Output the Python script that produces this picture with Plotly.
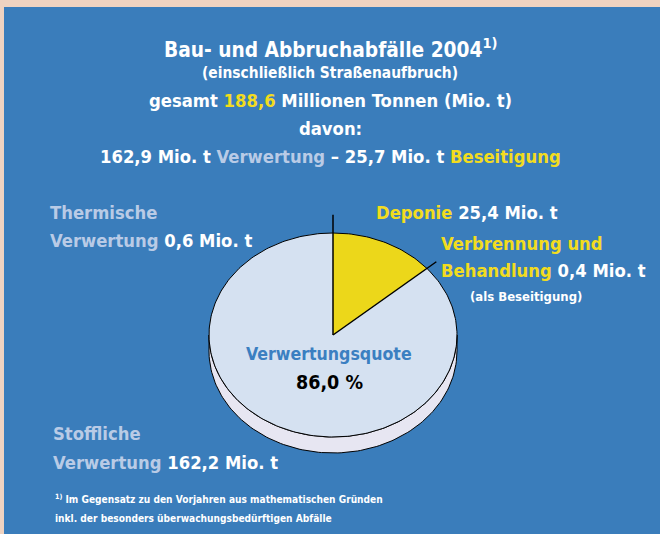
import numpy as np
import plotly.graph_objects as go

# ============================================================
# Data (Mio. t, 2004)
# ============================================================
categories = ["Deponie", "Verbrennung und Behandlung", "Stoffliche Verwertung", "Thermische Verwertung"]
values = [25.4, 0.4, 162.2, 0.6]
groups = ["Beseitigung", "Beseitigung", "Verwertung", "Verwertung"]
total = 188.6
verwertung_total = 162.9
beseitigung_total = 25.7
quote = 86.0

# ============================================================
# Style
# ============================================================
FONT = "Liberation Sans Narrow, Arial Narrow, DejaVu Sans Condensed, sans-serif"
PEACH = "#efd3c1"
BLUE = "#3a7dbb"
LIGHT = "#b9cbe6"
YELLOW_TXT = "#f2dc1e"
WHITE = "#ffffff"
TOP = "#d5e1f1"
SIDE = "#e7e6f2"
YELLOW = "#ecd71a"
group_colors = {"Beseitigung": YELLOW, "Verwertung": TOP}

# pie geometry in pixel space
cx, cy = 333, 335
rx, ry = 124, 102
depth = 16


def ell(theta_deg, dy=0, scale=1.0):
    t = np.radians(theta_deg)
    return cx + scale * rx * np.sin(t), cy + dy - scale * ry * np.cos(t)


fig = go.Figure()

# blue panel
fig.add_shape(type="rect", x0=4, x1=660, y0=7, y1=534, fillcolor=BLUE,
              line_width=0, layer="below")

# side of the disc
th = np.linspace(90, 270, 120)
xb, yb = ell(th, dy=depth)
xt, yt = ell(th[::-1])
fig.add_trace(go.Scatter(x=np.r_[xb, xt, xb[0]], y=np.r_[yb, yt, yb[0]],
                         fill="toself", fillcolor=SIDE, mode="lines",
                         line=dict(color="black", width=1), hoverinfo="skip"))

# top face, one wedge per group
frac = np.array(values) / sum(values) * 360
start = 0.0
g_start = {}
g_end = {}
for cat, v, g, a in zip(categories, values, groups, frac):
    g_start.setdefault(g, start)
    g_end[g] = start + a
    start += a

for g in ["Verwertung", "Beseitigung"]:
    a0, a1 = g_start[g], g_end[g]
    tt = np.linspace(a0, a1, 200)
    xs, ys = ell(tt)
    fig.add_trace(go.Scatter(x=np.r_[cx, xs, cx], y=np.r_[cy, ys, cy],
                             fill="toself", fillcolor=group_colors[g],
                             mode="lines", line=dict(width=0), hoverinfo="skip"))

# outline of the top ellipse
tt = np.linspace(0, 360, 300)
xs, ys = ell(tt)
fig.add_trace(go.Scatter(x=xs, y=ys, mode="lines", line=dict(color="black", width=1),
                         hoverinfo="skip"))

# radial boundary lines, extended as leader lines
for a, sc in [(g_start["Beseitigung"], 1.18), (g_end["Beseitigung"], 1.1)]:
    x1, y1 = ell(a, scale=sc)
    fig.add_trace(go.Scatter(x=[cx, x1], y=[cy, y1], mode="lines",
                             line=dict(color="black", width=1.5), hoverinfo="skip"))


def fmt(v):
    return f"{v:.1f}".replace(".", ",")


def txt(x, y, text, size, color=WHITE, anchor="left"):
    fig.add_annotation(x=x, y=y, xref="x", yref="y", text=text, showarrow=False,
                       xanchor=anchor, yanchor="middle",
                       font=dict(family=FONT, size=size, color=color))


def c(s, col):
    return f"<span style='color:{col}'>{s}</span>"


# ============================================================
# Headline
# ============================================================
txt(330, 48, "<b>Bau- und Abbruchabfälle 2004<sup>1)</sup></b>", 20.7, anchor="center")
txt(330, 73, "<b>(einschließlich Straßenaufbruch)</b>", 15.4, anchor="center")
txt(330, 100, f"<b>gesamt {c(fmt(total), YELLOW_TXT)} Millionen Tonnen (Mio. t)</b>", 18.3, anchor="center")
txt(330, 128, "<b>davon:</b>", 18.3, anchor="center")
txt(330, 156, f"<b>{fmt(verwertung_total)} Mio. t {c('Verwertung', LIGHT)} – "
              f"{fmt(beseitigung_total)} Mio. t {c('Beseitigung', YELLOW_TXT)}</b>", 18.3, anchor="center")

# ============================================================
# Slice labels
# ============================================================
txt(48, 212, f"<b>{c('Thermische', LIGHT)}</b>", 18.3)
txt(48, 240, f"<b>{c('Verwertung', LIGHT)} {fmt(values[3])} Mio. t</b>", 18.3)

txt(374, 212, f"<b>{c('Deponie', YELLOW_TXT)} {fmt(values[0])} Mio. t</b>", 18.3)
txt(439, 243, f"<b>{c('Verbrennung und', YELLOW_TXT)}</b>", 18.3)
txt(439, 270, f"<b>{c('Behandlung', YELLOW_TXT)} {fmt(values[1])} Mio. t</b>", 18.3)
txt(468, 296, "<b>(als Beseitigung)</b>", 13)

txt(51, 433, f"<b>{c('Stoffliche', LIGHT)}</b>", 18.3)
txt(51, 462, f"<b>{c('Verwertung', LIGHT)} {fmt(values[2])} Mio. t</b>", 18.3)

txt(329, 354, "<b>Verwertungsquote</b>", 17.6, color="#3b7fc1", anchor="center")
txt(329, 382, f"<b>{fmt(quote)} %</b>", 19.5, color="black", anchor="center")

# footnote
txt(53, 498, "<b><sup>1)</sup> Im Gegensatz zu den Vorjahren aus mathematischen Gründen</b>", 10.1)
txt(53, 518, "<b>inkl. der besonders überwachungsbedürftigen Abfälle</b>", 10.1)

fig.update_layout(
    width=660, height=534,
    margin=dict(l=0, r=0, t=0, b=0),
    paper_bgcolor=PEACH, plot_bgcolor="rgba(0,0,0,0)",
    showlegend=False,
    xaxis=dict(range=[0, 660], visible=False, fixedrange=True),
    yaxis=dict(range=[534, 0], visible=False, fixedrange=True),
)

fig.write_html("out.html", config={"displayModeBar": False},
               post_script="document.body.style.margin='0';")
